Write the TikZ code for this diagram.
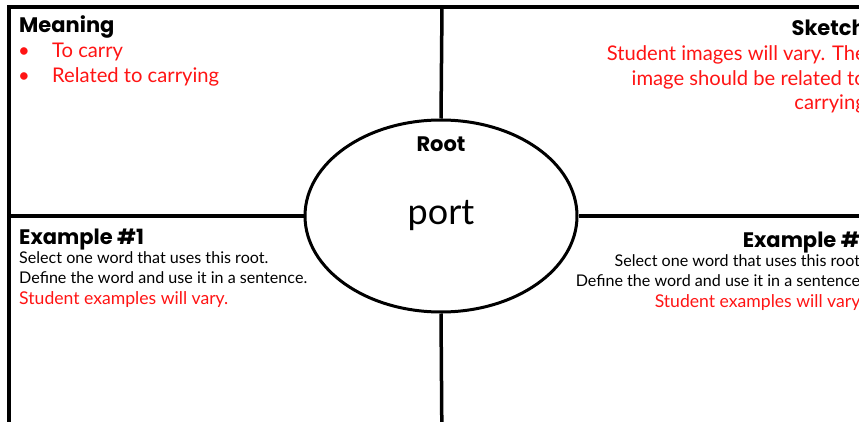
\documentclass[tikz,border=0pt]{standalone}
\usepackage{fontspec}
\setmainfont{Lato}
\newfontfamily\headfont{Poppins}[BoldFont={* Bold}]
\newfontfamily\bodyfont{Lato}
\usetikzlibrary{shapes.geometric}
\definecolor{redtxt}{RGB}{255,20,20}
\begin{document}
\begin{tikzpicture}[x=1pt,y=-1pt,
  frame/.style={line width=3.5pt,black},
  head/.style={font=\headfont\bfseries\fontsize{21}{24}\selectfont,inner sep=0pt,anchor=base west},
  redline/.style={font=\bodyfont\fontsize{20.2}{24}\selectfont,text=redtxt,inner sep=0pt,anchor=base west},
  blackline/.style={font=\bodyfont\fontsize{16.1}{19}\selectfont,inner sep=0pt,anchor=base west},
  exred/.style={font=\bodyfont\fontsize{17.6}{20}\selectfont,text=redtxt,inner sep=0pt,anchor=base west}]
\useasboundingbox (0,0) rectangle (859,422);
\clip (0,0) rectangle (859,422);
\fill[white] (0,0) rectangle (859,422);
% frame
\draw[frame] (9,7) rectangle (880,450);
\coordinate (top) at (442,7);
\coordinate (bot) at (442,450);
\coordinate (lft) at (9,216);
\coordinate (rgt) at (880,216);
\node[ellipse,draw,line width=3pt,fill=white,minimum width=272pt,minimum height=192pt,inner sep=0pt] (root) at (441,216) {};
\draw[frame] (top) -- (root.north);
\draw[frame] (root.south) -- (bot);
\draw[frame] (lft) -- (root.west);
\draw[frame] (root.east) -- (rgt);
% Meaning
\node[head] (meaning) at (19,33) {Meaning};
\node[redline] (b1) at (18,58) {\textbullet};
\node[redline] (m1) at (52,58) {To carry};
\node[redline] (b2) at (18,83) {\textbullet};
\node[redline] (m2) at (52,83) {Related to carrying};
% Sketch
\node[head,anchor=base east] (sketch) at (866,36) {Sketch};
\node[redline,anchor=base east] (s1) at (866,61) {Student images will vary. The};
\node[redline,anchor=base east] (s2) at (866,86) {image should be related to};
\node[redline,anchor=base east] (s3) at (866,110) {carrying};
% Root
\node[head,anchor=base] (roottitle) at (441,152) {Root};
\node[font=\bodyfont\fontsize{36}{40}\selectfont,inner sep=0pt,anchor=base] (port) at (441,225) {port};
% Example 1
\node[head] (ex1) at (19,244) {Example \#1};
\node[blackline] (e1a) at (19,263) {Select one word that uses this root.};
\node[blackline] (e1b) at (19,283) {Define the word and use it in a sentence.};
\node[exred] (e1c) at (19,304) {Student examples will vary.};
% Example 2
\node[head,anchor=base east] (ex2) at (872,247) {Example \#2};
\node[blackline,anchor=base east] (e2a) at (864,266) {Select one word that uses this root.};
\node[blackline,anchor=base east] (e2b) at (864,286) {Define the word and use it in a sentence.};
\node[exred,anchor=base east] (e2c) at (864,307) {Student examples will vary.};
\end{tikzpicture}
\end{document}
